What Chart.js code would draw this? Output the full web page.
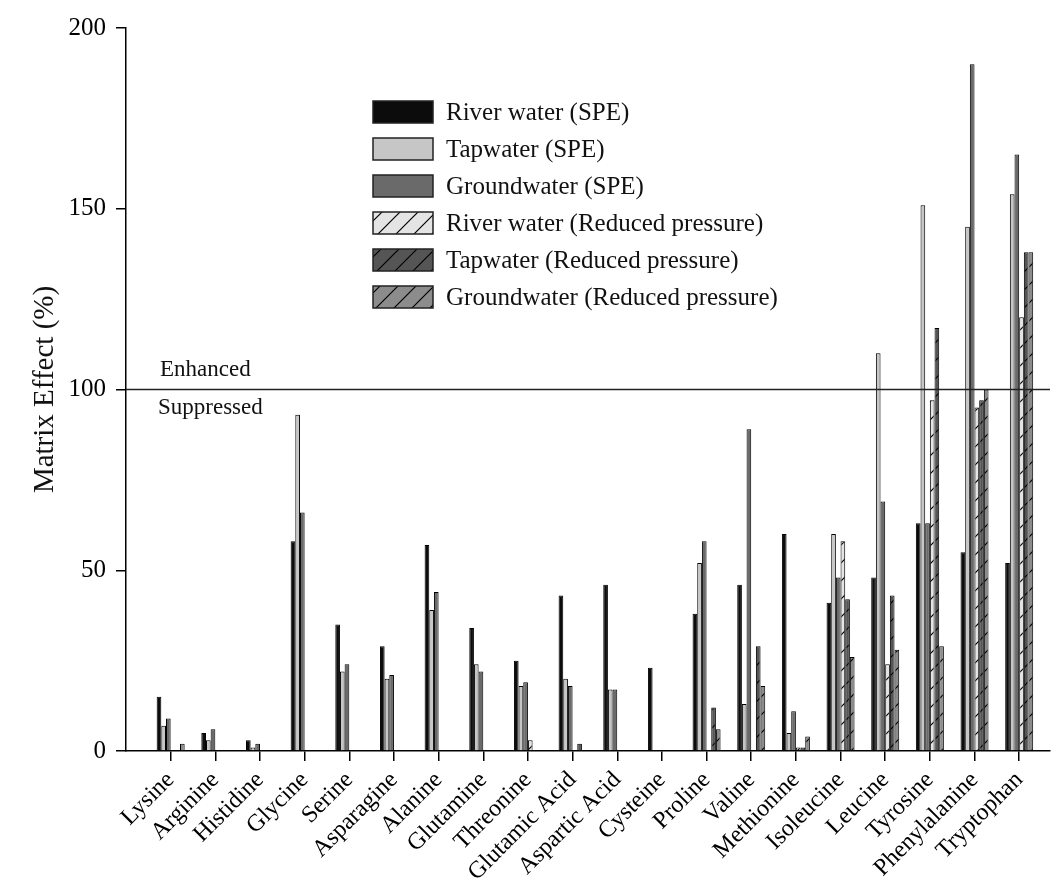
<!DOCTYPE html>
<html>
<head>
<meta charset="utf-8">
<script src="https://cdn.jsdelivr.net/npm/chart.js@4.4.0/dist/chart.umd.min.js"></script>
<style>
  html, body { margin: 0; padding: 0; background: #fff; }
  #wrap { width: 1055px; height: 896px; }
</style>
</head>
<body>
<div id="wrap"><canvas id="chart" width="1055" height="896"></canvas></div>
<script>
// amino acids on the x axis
const categories = ['Lysine', 'Arginine', 'Histidine', 'Glycine', 'Serine', 'Asparagine', 'Alanine',
  'Glutamine', 'Threonine', 'Glutamic Acid', 'Aspartic Acid', 'Cysteine', 'Proline', 'Valine',
  'Methionine', 'Isoleucine', 'Leucine', 'Tyrosine', 'Phenylalanine', 'Tryptophan'];

// matrix effect (%) per series
const riverSPE  = [15, 5, 3, 58, 35, 29, 57, 34, 25, 43, 46, 23, 38, 46, 60, 41, 48, 63, 55, 52];
const tapSPE    = [7, 3, 1, 93, 22, 20, 39, 24, 18, 20, 17, null, 52, 13, 5, 60, 110, 151, 145, 154];
const groundSPE = [9, 6, 2, 66, 24, 21, 44, 22, 19, 18, 17, null, 58, 89, 11, 48, 69, 63, 190, 165];
const riverRP   = [null, null, null, null, null, null, null, null, 3, null, null, null, null, null, 1, 58, 24, 97, 95, 120];
const tapRP     = [null, null, null, null, null, null, null, null, null, 2, null, null, 12, 29, 1, 42, 43, 117, 97, 138];
const groundRP  = [2, null, null, null, null, null, null, null, null, null, null, null, 6, 18, 4, 26, 28, 29, 100, 138];

const yTicks = [0, 50, 100, 150, 200];
const refLine = 100;

const SERIF = '"Liberation Serif", "Times New Roman", serif';
const canvas = document.getElementById('chart');
const ctx = canvas.getContext('2d');

// diagonal hatch fill for the reduced pressure bars
function hatch(bg) {
    const s = 18;
    const c = document.createElement('canvas');
    c.width = s; c.height = s;
    const g = c.getContext('2d');
    g.fillStyle = bg;
    g.fillRect(0, 0, s, s);
    g.strokeStyle = '#000';
    g.lineWidth = 1.2;
    g.beginPath();
    g.moveTo(0, s); g.lineTo(s, 0);
    g.moveTo(-3, 3); g.lineTo(3, -3);
    g.moveTo(s - 3, s + 3); g.lineTo(s + 3, s - 3);
    g.stroke();
    return ctx.createPattern(c, 'repeat');
}

function points(arr) {
    return arr.map((v, i) => ({ x: i, y: v }));
}

function series(label, arr, fill) {
    return {
        label: label,
        data: points(arr),
        backgroundColor: fill,
        borderColor: '#000',
        borderWidth: 1,
        categoryPercentage: 0.627,
        barPercentage: 1.0
    };
}

// reference line, Enhanced/Suppressed text and the legend box
const extras = {
    id: 'extras',
    afterDatasetsDraw(chart) {
        const { ctx, chartArea, scales } = chart;
        const y = scales.y.getPixelForValue(refLine);
        ctx.save();
        ctx.strokeStyle = '#222';
        ctx.lineWidth = 1.5;
        ctx.beginPath();
        ctx.moveTo(chartArea.left, y);
        ctx.lineTo(chartArea.right, y);
        ctx.stroke();

        ctx.fillStyle = '#111';
        ctx.textBaseline = 'middle';
        ctx.font = '23px ' + SERIF;
        ctx.fillText('Enhanced', 160, y - 20);
        ctx.fillText('Suppressed', 158, y + 18);

        ctx.font = '25px ' + SERIF;
        chart.data.datasets.forEach((ds, i) => {
            const ry = 112 + i * 37;
            ctx.fillStyle = ds.backgroundColor;
            ctx.fillRect(373, ry - 11, 60, 22);
            ctx.strokeStyle = '#222';
            ctx.lineWidth = 1.5;
            ctx.strokeRect(373, ry - 11, 60, 22);
            ctx.fillStyle = '#111';
            ctx.fillText(ds.label, 446, ry + 1);
        });
        ctx.restore();
    }
};

new Chart(ctx, {
    type: 'bar',
    data: {
        datasets: [
            series('River water (SPE)', riverSPE, '#0c0c0c'),
            series('Tapwater (SPE)', tapSPE, '#c6c6c6'),
            series('Groundwater (SPE)', groundSPE, '#6a6a6a'),
            series('River water (Reduced pressure)', riverRP, hatch('#e4e4e4')),
            series('Tapwater (Reduced pressure)', tapRP, hatch('#555555')),
            series('Groundwater (Reduced pressure)', groundRP, hatch('#8c8c8c'))
        ]
    },
    options: {
        responsive: false,
        devicePixelRatio: 1,
        animation: false,
        layout: { padding: { top: 28, right: 5, left: 0, bottom: 0 } },
        plugins: {
            legend: { display: false },
            tooltip: { enabled: false }
        },
        scales: {
            x: {
                type: 'linear',
                offset: false,
                min: -1,
                max: 19.69,
                afterBuildTicks: (scale) => {
                    scale.ticks = categories.map((_, i) => ({ value: i }));
                },
                afterFit: (scale) => { scale.height = 145; },
                ticks: {
                    autoSkip: false,
                    minRotation: 45,
                    maxRotation: 45,
                    padding: 5,
                    color: '#000',
                    font: { family: SERIF, size: 24 },
                    callback: (v) => categories[v]
                },
                grid: { display: true, offset: false, drawOnChartArea: false, drawTicks: true, tickLength: 10, color: '#000', lineWidth: 1.5 },
                border: { display: true, color: '#000', width: 1.5 }
            },
            y: {
                min: 0,
                max: 200,
                afterBuildTicks: (scale) => {
                    scale.ticks = yTicks.map(v => ({ value: v }));
                },
                afterFit: (scale) => { scale.width = 126; },
                ticks: {
                    padding: 10,
                    color: '#000',
                    font: { family: SERIF, size: 25 }
                },
                grid: { display: true, drawOnChartArea: false, drawTicks: true, tickLength: 10, color: '#000', lineWidth: 1.5 },
                border: { display: true, color: '#000', width: 1.5 },
                title: {
                    display: true,
                    text: 'Matrix Effect (%)',
                    color: '#111',
                    font: { family: SERIF, size: 29 },
                    padding: { top: 28, bottom: 0 }
                }
            }
        }
    },
    plugins: [extras]
});
</script>
</body>
</html>
